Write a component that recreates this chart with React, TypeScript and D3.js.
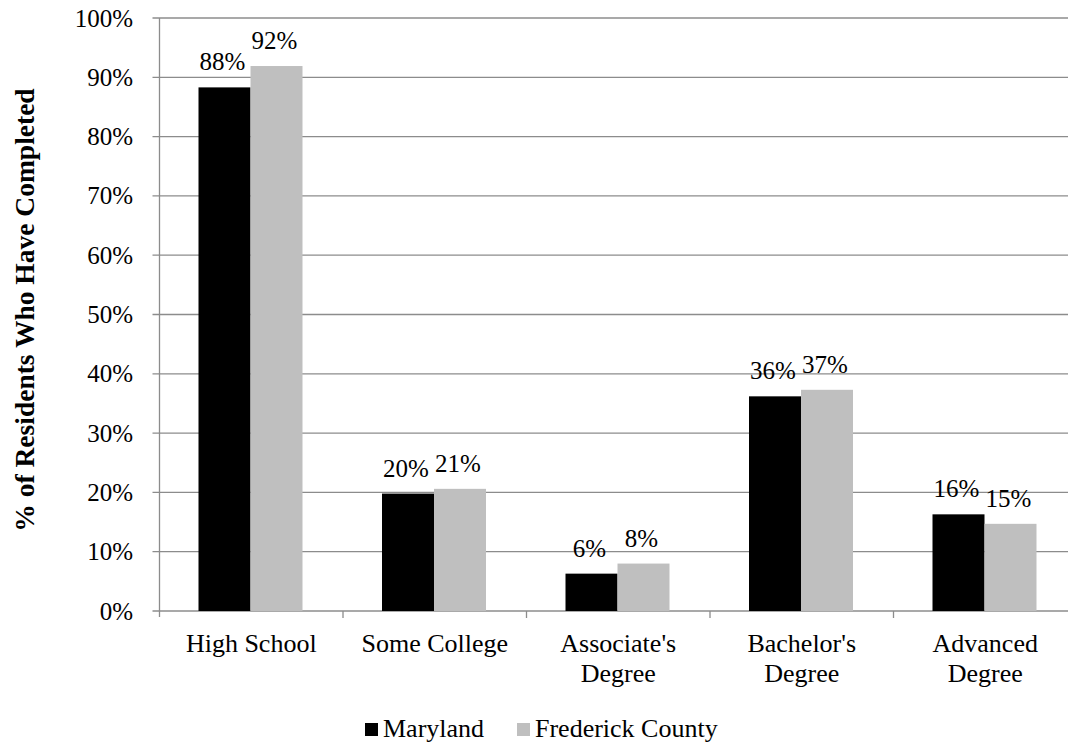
import * as d3 from 'd3'
import React, { useRef, useEffect } from 'react'

// Data
const categories = ['High School', 'Some College', "Associate's\nDegree", "Bachelor's\nDegree", 'Advanced\nDegree']
const seriesNames = ['Maryland', 'Frederick County']
const seriesColors = ['#000000', '#bfbfbf']
const maryland = [88.3, 19.8, 6.3, 36.2, 16.3]
const frederick = [91.9, 20.6, 8.0, 37.3, 14.7]
const yTicks = [0, 10, 20, 30, 40, 50, 60, 70, 80, 90, 100]

const App = () => {
  const ref = useRef<SVGSVGElement | null>(null)

  useEffect(() => {
    const svg = d3.select(ref.current)
    svg.selectAll('*').remove()

    const left = 159.5
    const bandW = 183.5
    const font = '"Liberation Serif", "Times New Roman", serif'

    const x = d3.scaleBand()
      .domain(categories)
      .range([left, left + bandW * categories.length])
      .paddingInner(0)
      .paddingOuter(0)
    const y = d3.scaleLinear().domain([0, 100]).range([611, 18])
    const inner = d3.scaleBand().domain(seriesNames).range([39, 39 + 104])

    // gridlines
    svg.append('g')
      .selectAll('line')
      .data(yTicks)
      .enter().append('line')
      .attr('x1', left - 7)
      .attr('x2', 1068)
      .attr('y1', d => y(d))
      .attr('y2', d => y(d))
      .attr('stroke', '#8c8c8c')
      .attr('stroke-width', 1.3)

    // y axis line
    svg.append('line')
      .attr('x1', left).attr('x2', left)
      .attr('y1', y(100)).attr('y2', y(0) + 6)
      .attr('stroke', '#8c8c8c')
      .attr('stroke-width', 1.3)

    // x ticks at category boundaries
    svg.append('g')
      .selectAll('line')
      .data(categories.slice(1))
      .enter().append('line')
      .attr('x1', d => x(d)!)
      .attr('x2', d => x(d)!)
      .attr('y1', y(0))
      .attr('y2', y(0) + 7)
      .attr('stroke', '#8c8c8c')
      .attr('stroke-width', 1.3)

    // y tick labels
    svg.append('g')
      .selectAll('text')
      .data(yTicks)
      .enter().append('text')
      .attr('x', 133)
      .attr('y', d => y(d) + 8.5)
      .attr('text-anchor', 'end')
      .style('font-family', font)
      .style('font-size', '25px')
      .text(d => `${d}%`)

    // bars
    const series = [maryland, frederick]
    series.forEach((vals, si) => {
      const g = svg.append('g')
      g.selectAll('rect')
        .data(vals)
        .enter().append('rect')
        .attr('x', (d, i) => x(categories[i])! + inner(seriesNames[si])!)
        .attr('y', d => y(d))
        .attr('width', inner.bandwidth())
        .attr('height', d => y(0) - y(d))
        .attr('fill', seriesColors[si])

      g.selectAll('text')
        .data(vals)
        .enter().append('text')
        .attr('x', (d, i) => x(categories[i])! + inner(seriesNames[si])! + inner.bandwidth() / 2 - 2)
        .attr('y', d => y(d) - 17)
        .attr('text-anchor', 'middle')
        .style('font-family', font)
        .style('font-size', '25px')
        .text(d => `${Math.round(d)}%`)
    })

    // category labels
    categories.forEach(c => {
      const lines = c.split('\n')
      const t = svg.append('text')
        .attr('text-anchor', 'middle')
        .style('font-family', font)
        .style('font-size', '26px')
      lines.forEach((ln, li) => {
        t.append('tspan')
          .attr('x', x(c)! + bandW / 2)
          .attr('y', 652 + li * 30)
          .text(ln)
      })
    })

    // y axis title
    svg.append('text')
      .attr('transform', 'translate(34, 310) rotate(-90)')
      .attr('text-anchor', 'middle')
      .style('font-family', font)
      .style('font-size', '27.5px')
      .style('font-weight', 'bold')
      .text('% of Residents Who Have Completed')

    // legend
    const legendX = [365, 517]
    seriesNames.forEach((s, i) => {
      svg.append('rect')
        .attr('x', legendX[i])
        .attr('y', 723)
        .attr('width', 13)
        .attr('height', 13)
        .attr('fill', seriesColors[i])
      svg.append('text')
        .attr('x', legendX[i] + 18)
        .attr('y', 737)
        .style('font-family', font)
        .style('font-size', '26px')
        .text(s)
    })
  }, [])

  return (
    <svg ref={ref} width={1068} height={744} style={{ position: 'absolute', left: 0, top: 0, background: '#fff' }} />
  )
}

export default App
